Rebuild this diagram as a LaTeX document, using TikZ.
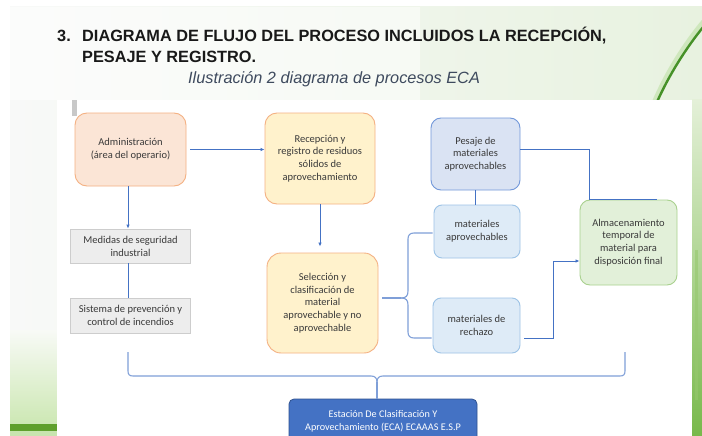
\documentclass[tikz,border=0pt]{standalone}
\usepackage{fontspec}
\setmainfont{Carlito}
\newfontfamily\titlefont{Liberation Sans}
\usetikzlibrary{calc,arrows.meta}
\definecolor{lnblue}{HTML}{4472C4}
\definecolor{brblue}{HTML}{7F9FD8}
\definecolor{txtgray}{HTML}{3A3A3A}
\definecolor{capcol}{HTML}{3E4A5E}
\definecolor{titlecol}{HTML}{191919}
\definecolor{orangedraw}{RGB}{244,177,131}
\definecolor{peachfill}{RGB}{251,229,214}
\definecolor{yellowfill}{RGB}{255,242,204}
\definecolor{bluefill}{RGB}{218,227,243}
\definecolor{bluedraw}{RGB}{114,152,218}
\definecolor{lbluefill}{RGB}{222,235,247}
\definecolor{lbluedraw}{RGB}{157,195,230}
\definecolor{greenfill}{RGB}{226,240,217}
\definecolor{greendraw}{RGB}{169,209,142}
\definecolor{grayfill}{RGB}{237,237,237}
\definecolor{graydraw}{RGB}{205,205,205}
\definecolor{estdraw}{RGB}{47,82,143}
\definecolor{bgleft}{RGB}{248,249,248}
\definecolor{bgright}{RGB}{232,242,224}
\definecolor{swooshlight}{RGB}{190,225,165}
\definecolor{swooshdark}{RGB}{70,145,40}
\definecolor{striptop}{RGB}{228,240,216}
\definecolor{stripbot}{RGB}{120,185,75}
\definecolor{stripmid}{RGB}{150,200,110}
\definecolor{bltop}{RGB}{248,250,246}
\definecolor{blbot}{RGB}{205,232,180}
\definecolor{blband}{RGB}{95,160,45}
\definecolor{blbelow}{RGB}{200,228,175}
\definecolor{barcol}{RGB}{200,200,200}
\tikzset{
  box/.style={draw, line width=0.9pt, align=center, text=txtgray, inner sep=2pt,
    font=\fontsize{10.5}{12.8}\selectfont},
  orangebox/.style={box, fill=#1, draw=orangedraw, rounded corners=12pt},
  bluebox/.style={box, fill=bluefill, draw=bluedraw, rounded corners=10pt},
  lbluebox/.style={box, fill=lbluefill, draw=lbluedraw, rounded corners=8pt},
  greenbox/.style={box, fill=greenfill, draw=greendraw, rounded corners=10pt},
  graybox/.style={box, fill=grayfill, draw=graydraw, line width=0.8pt},
  conn/.style={draw=lnblue, line width=0.8pt},
  arr/.style={conn, -{Latex[length=4pt,width=3.5pt]}},
  brace/.style={draw=brblue, line width=1.1pt},
  titletext/.style={anchor=base west, inner sep=0pt, font=\titlefont\bfseries\fontsize{16.3}{19}\selectfont, text=titlecol},
}
\begin{document}
\begin{tikzpicture}[x=1pt,y=-1pt]
\useasboundingbox (0,0) rectangle (702,436);
\clip (0,0) rectangle (702,436);
% slide background
\fill[white] (0,0) rectangle (702,436);
\shade[left color=bgleft, right color=bgright] (10,7) rectangle (702,436);
\fill[white, opacity=0.5] (10,7) rectangle (420,100);
% swoosh
\draw[line width=6pt, color=swooshlight, opacity=0.6] (704,22) .. controls (685,45) and (668,72) .. (655,102);
\draw[line width=2.4pt, color=swooshdark] (704,26) .. controls (686,48) and (669,75) .. (657,102);
% right strip
\shade[top color=striptop, bottom color=stripbot] (692,100) rectangle (702,436);
\fill[color=stripmid, opacity=0.6] (695,250) rectangle (698,400);
% bottom left
\shade[top color=bltop, bottom color=blbot] (10,330) rectangle (57,424);
\fill[color=blband] (10,424) rectangle (57,431);
\fill[color=blbelow] (10,431) rectangle (57,436);
% white panel
\fill[white] (57,100) rectangle (692,436);
\fill[color=barcol] (72,100) rectangle (77,116);

% titles
\node[titletext] (num) at (57,42) {3.};
\node[titletext] (t1) at (82,42) {DIAGRAMA DE FLUJO DEL PROCESO INCLUIDOS LA RECEPCIÓN,};
\node[titletext] (t2) at (82,63) {PESAJE Y REGISTRO.};
\node[anchor=base west, inner sep=0pt, font=\titlefont\itshape\fontsize{16.3}{19}\selectfont, text=capcol] (cap) at (188,84) {Ilustración 2 diagrama de procesos ECA};

% nodes
\node[orangebox=peachfill, minimum width=111pt, minimum height=73pt] (adm) at (130.5,149.5) {\raisebox{2pt}{\parbox{105pt}{\centering Administración\\(área del operario)}}};
\node[orangebox=yellowfill, minimum width=110pt, minimum height=91pt] (rec) at (320,158.5) {Recepción y\\registro de residuos\\sólidos de\\aprovechamiento};
\node[bluebox, minimum width=89pt, minimum height=72pt] (pes) at (475.5,154) {Pesaje de\\materiales\\aprovechables};
\node[lbluebox, minimum width=86pt, minimum height=53pt] (apr) at (477,231.5) {materiales\\aprovechables};
\node[greenbox, minimum width=97pt, minimum height=85pt] (alm) at (628.5,242.5) {Almacenamiento\\temporal de\\material para\\disposición final};
\node[graybox, minimum width=120pt, minimum height=34pt] (med) at (130.5,246) {Medidas de seguridad\\industrial};
\node[graybox, minimum width=120pt, minimum height=35pt] (sis) at (130.5,315.5) {Sistema de prevención y\\control de incendios};
\node[orangebox=yellowfill, minimum width=111pt, minimum height=100pt, rounded corners=14pt] (sel) at (322.5,303) {Selección y\\clasificación de\\material\\aprovechable y no\\aprovechable};
\node[lbluebox, minimum width=87pt, minimum height=55pt] (rch) at (476.5,325.5) {materiales de\\rechazo};
\node[box, fill=lnblue, draw=estdraw, line width=0.8pt, rounded corners=5pt, text=white, minimum width=188pt, minimum height=44pt] (est) at (383,421) {\raisebox{7pt}{\parbox{180pt}{\centering\fontsize{10.2}{12.8}\selectfont Estación De Clasificación Y\\Aprovechamiento (ECA) ECAAAS E.S.P}}};

% connectors
\draw[arr] ([xshift=4pt]adm.east) -- (adm.east -| rec.west);
\draw[arr] ([xshift=-2.5pt]adm.south) -- ([xshift=-2.5pt]med.north);
\draw[conn] ([xshift=-2.5pt]med.south) -- ([xshift=-2.5pt]sis.north);
\draw[arr, shorten >=6pt] (rec.south) -- (rec.south |- sel.north);
\draw[conn] (pes.south) -- (pes.south |- apr.north);
\coordinate (pk1) at (589,149);
\coordinate (pk2) at (589,199);
\coordinate (pk3) at (657,199);
\draw[conn] ([yshift=5pt]pes.east) -- (pk1) -- (pk2) -- (pk3);
\coordinate (rk) at (553,338);
\draw[arr] ([xshift=4pt,yshift=-12.5pt]rch.east) -- (rk) |- ([yshift=-18.5pt]alm.west);

% brace selection -> materiales
\coordinate (bt) at (401,298);
\draw[brace] ([xshift=4pt,yshift=5pt]sel.east) -- (bt);
\draw[brace] (bt) .. controls (406,298) and (408,296) .. (408,291) -- (408,239) .. controls (408,235) and (410,233) .. (414,233) -- ([xshift=-1pt,yshift=-1.5pt]apr.west);
\draw[brace] (bt) .. controls (406,298) and (408,300) .. (408,305) -- (408,332) .. controls (408,336) and (410,338) .. (414,338) -- ([xshift=-1pt,yshift=-12.5pt]rch.west);

% bottom brace
\coordinate (bl) at (128,352);
\coordinate (br) at (625,352);
\coordinate (btip) at (377,382);
\draw[brace] (bl) -- (128,371) .. controls (128,374.5) and (129.5,376) .. (133,376) -- (371,376) .. controls (375,376) and (377,378) .. (btip);
\draw[brace] (br) -- (625,371) .. controls (625,374.5) and (623.5,376) .. (620,376) -- (383,376) .. controls (379,376) and (377,378) .. (btip);
\draw[brace] (btip) -- (btip |- est.north);
\end{tikzpicture}
\end{document}
